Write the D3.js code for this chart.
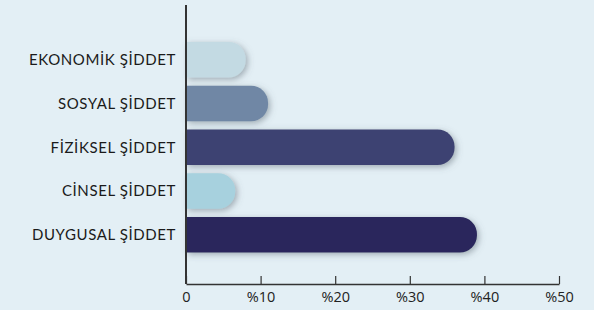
<!DOCTYPE html>
<html>
<head>
<meta charset="utf-8">
<script src="https://cdn.jsdelivr.net/npm/d3@7"></script>
<style>
  html, body { margin: 0; padding: 0; background: #e3eff5; }
  svg { display: block; }
  .cat text { font-family: Lato, "Open Sans", sans-serif; font-size: 15px; fill: #1a1a1a; letter-spacing: 0.6px; }
  .x-axis text { font-family: "Open Sans", sans-serif; font-size: 14.5px; fill: #222; }
</style>
</head>
<body>
<div id="chart"></div>
<script>
// data
var categories = ["EKONOMİK ŞİDDET", "SOSYAL ŞİDDET", "FİZİKSEL ŞİDDET", "CİNSEL ŞİDDET", "DUYGUSAL ŞİDDET"];
var values = [8, 11, 36, 6.6, 39];
var colors = ["#c3dae3", "#6f87a5", "#3e4272", "#a7d1de", "#29255c"];
var tickValues = [0, 10, 20, 30, 40, 50];
var tickLabels = ["0", "%10", "%20", "%30", "%40", "%50"];

var W = 594, H = 310;
var margin = {top: 5, right: 35, bottom: 26, left: 186};
var width = W - margin.left - margin.right,
    height = H - margin.top - margin.bottom;

var svg = d3.select("#chart").append("svg")
    .attr("width", W)
    .attr("height", H);

var defs = svg.append("defs");
var shadow = defs.append("filter")
    .attr("id", "shadow")
    .attr("x", "-10%").attr("y", "-40%")
    .attr("width", "130%").attr("height", "190%");
shadow.append("feDropShadow")
    .attr("dx", 2).attr("dy", 2)
    .attr("stdDeviation", 3)
    .attr("flood-color", "#5a6670")
    .attr("flood-opacity", 0.5);

var g = svg.append("g")
    .attr("transform", "translate(" + margin.left + "," + margin.top + ")");

var x = d3.scaleLinear().domain([0, 50]).range([0, 373]);
var y = d3.scaleBand().domain(categories).range([37, 247.5]).paddingInner(0.19).paddingOuter(0);

// bars, flat at the axis, rounded at the end
function barPath(d, i) {
  var x1 = x(values[i]), y0 = y(d), h = y.bandwidth();
  var r = Math.min(h / 2, 17);
  return "M0," + y0 +
    "H" + (x1 - r) +
    "A" + r + "," + r + " 0 0 1 " + x1 + "," + (y0 + r) +
    "V" + (y0 + h - r) +
    "A" + r + "," + r + " 0 0 1 " + (x1 - r) + "," + (y0 + h) +
    "H0Z";
}

g.selectAll("path.bar")
    .data(categories)
    .enter().append("path")
    .attr("class", "bar")
    .attr("d", barPath)
    .attr("fill", function(d, i){ return colors[i]; })
    .attr("filter", "url(#shadow)");

// category labels
g.append("g").attr("class", "cat")
  .selectAll("text")
    .data(categories)
    .enter().append("text")
    .attr("x", -10)
    .attr("y", function(d){ return y(d) + y.bandwidth() / 2; })
    .attr("dy", "0.36em")
    .attr("text-anchor", "end")
    .text(function(d){ return d; });

// x axis, ticks pointing up
var xAxis = d3.axisBottom(x)
    .tickValues(tickValues)
    .tickSizeInner(-8)
    .tickSizeOuter(0)
    .tickPadding(8)
    .tickFormat(function(d, i){ return tickLabels[i]; });

var ax = g.append("g")
    .attr("class", "x-axis")
    .attr("transform", "translate(0," + height + ")")
    .call(xAxis);
ax.select(".domain").attr("stroke", "#333").attr("stroke-width", 1.5);
ax.selectAll(".tick line").attr("stroke", "#333").attr("stroke-width", 1.2);

// y axis line
g.append("line")
    .attr("x1", 0).attr("x2", 0)
    .attr("y1", 0).attr("y2", height)
    .attr("stroke", "#333")
    .attr("stroke-width", 2);
</script>
</body>
</html>
